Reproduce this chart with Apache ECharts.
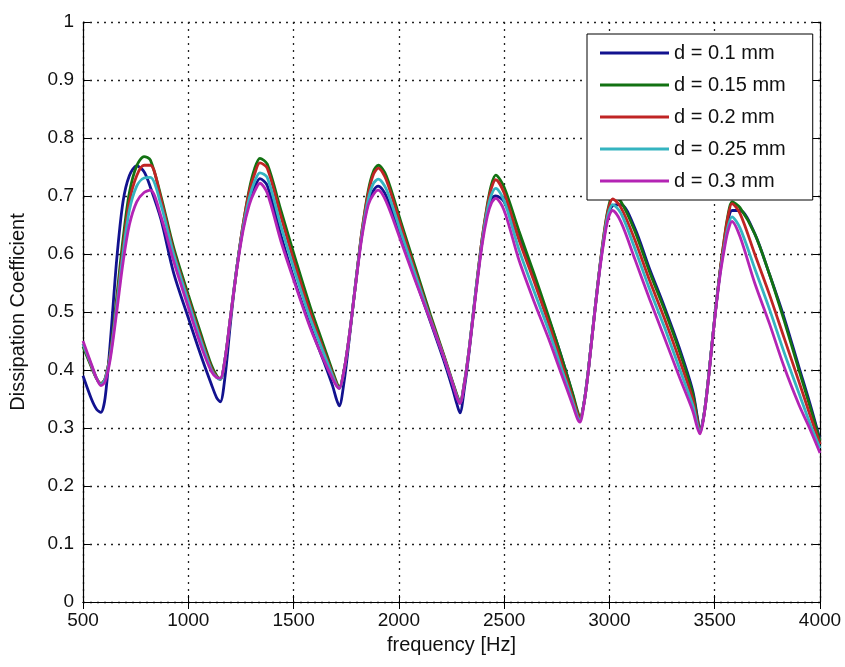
<!DOCTYPE html>
<html>
<head>
<meta charset="utf-8">
<script src="https://cdn.jsdelivr.net/npm/echarts@6/dist/echarts.min.js"></script>
<style>
html,body{margin:0;padding:0;background:#fff;}
#chart{width:845px;height:667px;}
</style>
</head>
<body>
<div id="chart"></div>
<script>
// frequency samples [Hz]
const freq = [
  500, 540, 565, 585, 605, 630, 660, 690, 720, 755, 790, 820, 870, 930, 1000, 1060, 1110, 1135, 1152,
  1175, 1200, 1230, 1260, 1290, 1315, 1340, 1375, 1440, 1510, 1580, 1640, 1685, 1705, 1717,
  1740, 1765, 1795, 1825, 1855, 1880, 1902, 1940, 2010, 2080, 2150, 2210, 2255, 2275, 2290,
  2312, 2335, 2365, 2395, 2420, 2440, 2460, 2500, 2570, 2640, 2710, 2770, 2825, 2848, 2860,
  2880, 2900, 2930, 2955, 2978, 2995, 3015, 3055, 3120, 3190, 3260, 3330, 3395, 3418, 3430,
  3450, 3470, 3500, 3525, 3545, 3562, 3582, 3620, 3690, 3760, 3830, 3900, 3950, 4000
];
const d010 = [
  .39, .35, .332, .327, .352, .45, .59, .69, .735, .752, .742, .715, .66, .568, .49, .425, .375, .352, .345,
  .39, .48, .575, .645, .69, .715, .73, .718, .632, .548, .475, .418, .373, .348, .338,
  .38, .455, .55, .635, .69, .71, .717, .70, .628, .555, .483, .42, .368, .342, .326,
  .37, .435, .533, .62, .675, .695, .70, .69, .628, .56, .49, .425, .358, .325, .313,
  .345, .40, .50, .578, .637, .668, .683, .685, .645, .575, .51, .44, .365, .318, .295,
  .325, .385, .49, .568, .618, .655, .675, .675, .635, .565, .49, .405, .345, .28
];
const d015 = [
  .44, .405, .385, .377, .385, .43, .525, .625, .705, .752, .768, .762, .70, .612, .53, .462, .408, .39, .384,
  .42, .49, .575, .65, .712, .747, .765, .755, .675, .59, .508, .445, .398, .378, .37,
  .40, .46, .55, .64, .71, .743, .753, .735, .655, .575, .495, .43, .38, .358, .345,
  .38, .44, .535, .625, .685, .72, .736, .715, .64, .568, .493, .425, .36, .33, .318,
  .345, .40, .50, .58, .645, .68, .70, .69, .64, .57, .505, .435, .36, .315, .295,
  .325, .385, .49, .57, .625, .665, .69, .68, .635, .565, .485, .40, .34, .278
];
const d020 = [
  .445, .407, .385, .376, .385, .428, .515, .61, .69, .735, .753, .753, .695, .605, .523, .455, .403, .388, .384,
  .42, .49, .575, .65, .708, .738, .757, .748, .665, .578, .498, .437, .393, .375, .369,
  .40, .46, .55, .64, .705, .738, .748, .728, .648, .568, .49, .428, .378, .356, .344,
  .38, .44, .535, .625, .682, .714, .728, .705, .625, .555, .482, .415, .352, .325, .316,
  .345, .40, .50, .58, .643, .677, .695, .68, .625, .555, .49, .42, .35, .31, .293,
  .325, .385, .49, .57, .624, .662, .687, .67, .60, .53, .455, .38, .325, .272
];
const d025 = [
  .445, .408, .385, .375, .384, .425, .51, .60, .675, .717, .731, .732, .685, .60, .518, .45, .40, .387, .384,
  .42, .49, .575, .645, .697, .725, .74, .732, .648, .565, .488, .432, .39, .373, .368,
  .40, .46, .55, .635, .695, .722, .729, .712, .637, .562, .487, .426, .377, .355, .343,
  .38, .44, .535, .62, .675, .702, .713, .692, .608, .538, .47, .405, .346, .32, .313,
  .345, .40, .50, .578, .638, .67, .685, .67, .61, .54, .475, .405, .34, .305, .292,
  .325, .385, .49, .565, .612, .645, .664, .645, .575, .505, .43, .36, .31, .265
];
const d030 = [
  .45, .41, .385, .373, .38, .42, .50, .585, .65, .69, .706, .71, .665, .588, .508, .442, .397, .387, .386,
  .42, .49, .572, .64, .685, .708, .722, .705, .622, .545, .472, .42, .385, .372, .368,
  .40, .46, .548, .63, .685, .703, .71, .69, .622, .552, .485, .425, .377, .353, .342,
  .378, .438, .53, .615, .665, .688, .696, .675, .59, .52, .455, .395, .34, .316, .31,
  .343, .398, .498, .575, .632, .662, .675, .655, .592, .523, .457, .39, .33, .30, .29,
  .323, .383, .488, .562, .607, .638, .656, .63, .55, .48, .405, .34, .30, .257
];
const seriesNames = ['d = 0.1 mm', 'd = 0.15 mm', 'd = 0.2 mm', 'd = 0.25 mm', 'd = 0.3 mm'];
const seriesValues = [d010, d015, d020, d025, d030];
const seriesColors = ['#12128f', '#127212', '#c02424', '#34b4c0', '#b424b4'];

const FONT = "'Liberation Sans', Arial, sans-serif";
const chart = echarts.init(document.getElementById('chart'), null, {renderer: 'canvas'});

const tickStyle = {show: true, inside: true, length: 7, lineStyle: {color: '#000', width: 1}};
const axisLineStyle = {show: true, lineStyle: {color: '#000', width: 1.2}};

chart.setOption({
  backgroundColor: '#fff',
  animation: false,
  grid: {left: 83, right: 25, top: 22, bottom: 65},
  legend: {
    orient: 'vertical',
    left: 587, top: 34,
    padding: [7, 27, 7, 13],
    itemWidth: 69, itemHeight: 3, itemGap: 8,
    icon: 'rect',
    backgroundColor: '#fff',
    borderColor: '#000', borderWidth: 1, borderRadius: 0,
    textStyle: {fontFamily: FONT, fontSize: 20, color: '#111', lineHeight: 24},
    data: seriesNames
  },
  xAxis: [{
    type: 'value', min: 500, max: 4000, interval: 500,
    position: 'bottom',
    name: 'frequency [Hz]', nameLocation: 'middle', nameGap: 33,
    nameTextStyle: {fontFamily: FONT, fontSize: 20, color: '#111'},
    axisLine: axisLineStyle, axisTick: tickStyle,
    axisLabel: {fontFamily: FONT, fontSize: 19, color: '#111', margin: 9,
      formatter: v => String(v)},
    splitLine: {show: true, lineStyle: {color: '#222', width: 1.3, type: [2, 5]}}
  }, {
    type: 'value', min: 500, max: 4000, interval: 500,
    position: 'top',
    axisLine: axisLineStyle, axisTick: tickStyle,
    axisLabel: {show: false}, splitLine: {show: false}
  }],
  yAxis: [{
    type: 'value', min: 0, max: 1, interval: 0.1,
    position: 'left',
    name: 'Dissipation Coefficient', nameLocation: 'middle', nameGap: 55,
    nameTextStyle: {fontFamily: FONT, fontSize: 20, color: '#111'},
    axisLine: axisLineStyle, axisTick: tickStyle,
    axisLabel: {fontFamily: FONT, fontSize: 19, color: '#111', margin: 9,
      formatter: v => String(+v.toFixed(1))},
    splitLine: {show: true, lineStyle: {color: '#222', width: 1.3, type: [2, 5]}}
  }, {
    type: 'value', min: 0, max: 1, interval: 0.1,
    position: 'right',
    axisLine: axisLineStyle, axisTick: tickStyle,
    axisLabel: {show: false}, splitLine: {show: false}
  }],
  series: seriesNames.map((name, i) => ({
    name: name,
    type: 'line',
    xAxisIndex: 0, yAxisIndex: 0,
    data: freq.map((f, j) => [f, seriesValues[i][j]]),
    smooth: 0.3,
    showSymbol: false,
    symbol: 'none',
    color: seriesColors[i],
    lineStyle: {color: seriesColors[i], width: 2.8},
    z: 2 + i
  }))
});
</script>
</body>
</html>
